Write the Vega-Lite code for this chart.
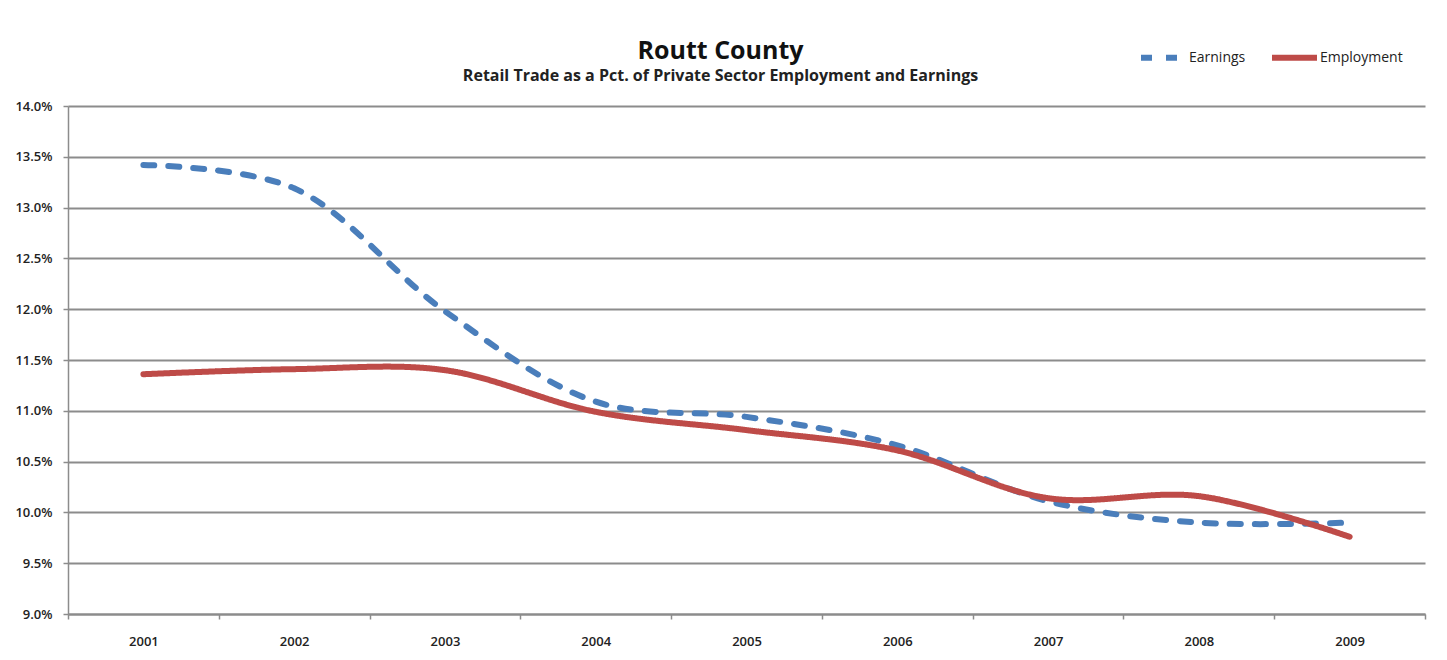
{
  "$schema": "https://vega.github.io/schema/vega-lite/v6.json",
  "width": 1357,
  "height": 508,
  "autosize": {"type": "none"},
  "padding": {"left": 68, "top": 106, "right": 22, "bottom": 46},
  "background": "white",
  "title": {
    "text": "Routt County",
    "subtitle": "Retail Trade as a Pct. of Private Sector Employment and Earnings",
    "anchor": "middle",
    "frame": "group",
    "dx": -26,
    "offset": -52,
    "font": "Open Sans",
    "fontSize": 25,
    "fontWeight": "bold",
    "color": "#111111",
    "subtitleFont": "Open Sans",
    "subtitleFontSize": 16,
    "subtitleFontWeight": "bold",
    "subtitleColor": "#222222",
    "subtitlePadding": 4
  },
  "data": {
    "values": [
      {"year": "2001", "series": "Earnings", "value": 0.1342},
      {"year": "2002", "series": "Earnings", "value": 0.1319},
      {"year": "2003", "series": "Earnings", "value": 0.1198},
      {"year": "2004", "series": "Earnings", "value": 0.1109},
      {"year": "2005", "series": "Earnings", "value": 0.1094},
      {"year": "2006", "series": "Earnings", "value": 0.1066},
      {"year": "2007", "series": "Earnings", "value": 0.1011},
      {"year": "2008", "series": "Earnings", "value": 0.0990},
      {"year": "2009", "series": "Earnings", "value": 0.0990},
      {"year": "2001", "series": "Employment", "value": 0.1136},
      {"year": "2002", "series": "Employment", "value": 0.1141},
      {"year": "2003", "series": "Employment", "value": 0.1140},
      {"year": "2004", "series": "Employment", "value": 0.1099},
      {"year": "2005", "series": "Employment", "value": 0.1081},
      {"year": "2006", "series": "Employment", "value": 0.1061},
      {"year": "2007", "series": "Employment", "value": 0.1014},
      {"year": "2008", "series": "Employment", "value": 0.1016},
      {"year": "2009", "series": "Employment", "value": 0.0976}
    ]
  },
  "mark": {"type": "line", "interpolate": "catmull-rom", "strokeWidth": 6, "strokeCap": "round", "strokeJoin": "round"},
  "encoding": {
    "x": {
      "field": "year",
      "type": "ordinal",
      "scale": {"paddingInner": 0, "paddingOuter": 0},
      "axis": {
        "title": null,
        "labelAngle": 0,
        "tickBand": "extent",
        "grid": false,
        "domainColor": "#8c8c8c",
        "domainWidth": 2,
        "tickColor": "#8c8c8c",
        "tickWidth": 1.5,
        "tickSize": 5,
        "labelPadding": 16,
        "labelFont": "Open Sans",
        "labelFontSize": 13,
        "labelFontWeight": 600,
        "labelColor": "#222222"
      }
    },
    "y": {
      "field": "value",
      "type": "quantitative",
      "scale": {"domain": [0.09, 0.14], "nice": false, "zero": false},
      "axis": {
        "title": null,
        "format": ".1%",
        "values": [0.09, 0.095, 0.1, 0.105, 0.11, 0.115, 0.12, 0.125, 0.13, 0.135, 0.14],
        "grid": true,
        "gridColor": "#8c8c8c",
        "gridWidth": 1.8,
        "gridOpacity": 1,
        "domainColor": "#8c8c8c",
        "domainWidth": 1.5,
        "tickColor": "#8c8c8c",
        "tickWidth": 1.5,
        "tickSize": 5,
        "labelPadding": 11,
        "labelFont": "Open Sans",
        "labelFontSize": 13,
        "labelFontWeight": 600,
        "labelColor": "#222222"
      }
    },
    "color": {
      "field": "series",
      "type": "nominal",
      "scale": {"domain": ["Earnings", "Employment"], "range": ["#4a7ebb", "#be4b48"]},
      "legend": {
        "title": null,
        "orient": "none",
        "direction": "horizontal",
        "legendX": 1070,
        "legendY": -74,
        "symbolType": "stroke",
        "symbolSize": 2025,
        "symbolStrokeWidth": 6,
        "labelFont": "Open Sans",
        "labelFontSize": 14,
        "labelColor": "#222222",
        "labelOffset": 0,
        "columnPadding": 14
      }
    },
    "strokeDash": {
      "field": "series",
      "type": "nominal",
      "scale": {"domain": ["Earnings", "Employment"], "range": [[11, 14], [1, 0]]},
      "legend": {
        "title": null,
        "orient": "none",
        "direction": "horizontal",
        "legendX": 1070,
        "legendY": -74,
        "symbolType": "stroke",
        "symbolSize": 2025,
        "symbolStrokeWidth": 6,
        "labelFont": "Open Sans",
        "labelFontSize": 14,
        "labelColor": "#222222",
        "labelOffset": 0,
        "columnPadding": 14
      }
    }
  },
  "config": {"view": {"stroke": null}}
}
